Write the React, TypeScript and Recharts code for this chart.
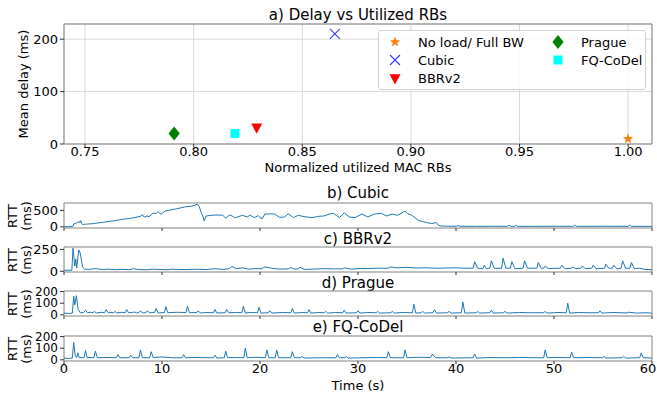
import { ScatterChart, Scatter, LineChart, Line, XAxis, YAxis, CartesianGrid, ReferenceArea } from 'recharts';

const FONT = "'DejaVu Sans', sans-serif";

// a) scatter: one point per congestion control / AQM
const methods = ['No load/ Full BW', 'Cubic', 'BBRv2', 'Prague', 'FQ-CoDel'];
const utilizedRBs = [1.0, 0.865, 0.829, 0.791, 0.819];
const meanDelay = [10, 210, 30, 20, 20];
const rbTicks = [0.75, 0.8, 0.85, 0.9, 0.95, 1.0];
const delayTicks = [0, 100, 200];

// b-e) RTT traces, [time s, rtt ms]
const cubicRtt: [number, number][] = [
  [0, 5], [0.5, 8], [0.9, 12], [1.0, 90], [1.2, 110], [1.4, 130], [1.5, 165], [1.6, 120], [1.7, 190], [1.8, 110],
  [1.9, 70], [2.2, 80], [3, 100], [4, 140], [5, 180], [6, 230], [7, 270], [7.8, 320], [8.0, 370], [8.2, 290],
  [8.4, 330], [8.7, 310], [9.1, 420], [9.4, 400], [9.6, 460], [9.9, 380], [10.3, 480], [10.8, 510], [11.5, 550],
  [12.4, 610], [13.0, 630], [13.3, 650], [13.6, 690], [13.8, 620], [14.0, 430], [14.2, 300], [14.3, 180], [14.5, 330],
  [15.0, 350], [15.5, 360], [16.2, 355], [16.5, 260], [16.8, 340], [17.0, 360], [17.3, 300], [17.5, 280], [18.0, 330],
  [18.2, 350], [18.7, 300], [19.0, 360], [19.4, 280], [19.8, 340], [20.2, 240], [20.5, 390], [21.0, 395], [21.5, 390],
  [22.0, 290], [22.5, 300], [22.9, 400], [23.4, 280], [23.9, 350], [24.5, 310], [25.3, 280], [26.0, 320], [26.5, 330],
  [27.1, 390], [27.5, 410], [28.1, 280], [28.6, 430], [29.1, 300], [29.7, 280], [30.4, 390], [31.0, 300], [31.7, 390],
  [32.4, 410], [32.9, 330], [33.5, 390], [34.0, 350], [34.4, 410], [34.8, 480], [35.1, 400], [35.5, 350], [35.8, 280],
  [36.2, 190], [36.6, 160], [37.0, 130], [37.5, 100], [38.0, 130], [38.2, 50], [38.4, 30], [39, 20], [40.05, 18],
  [40.2, 40], [40.4, 18], [42, 15], [44, 18], [45.25, 18], [45.4, 50], [45.6, 18], [45.95, 16], [46.1, 45], [46.3, 15],
  [48, 15], [50, 18], [51.95, 16], [52.1, 50], [52.3, 15], [55, 18], [57.55, 16], [57.7, 50], [57.9, 15], [60, 15],
];

const bbrRtt: [number, number][] = [
  [0, 12], [0.8, 12], [0.92, 265], [1.05, 120], [1.1, 60], [1.2, 140], [1.3, 40], [1.5, 245], [1.65, 210], [1.9, 50],
  [2.1, 25], [2.6, 22], [3.3, 32], [3.8, 20], [4.5, 24], [5.2, 18], [6, 22], [6.6, 18], [7.1, 30], [7.6, 20], [8.5, 18],
  [9.0, 24], [9.5, 22], [10.5, 18], [11.0, 24], [11.5, 22], [12.5, 20], [13.5, 24], [14.5, 20], [15.0, 26], [15.5, 28],
  [16.3, 22], [16.9, 30], [17.1, 55], [17.6, 30], [18.2, 40], [18.8, 25], [19.5, 30], [20.2, 30], [20.5, 50], [21.2, 35],
  [22.0, 25], [22.9, 28], [23.1, 45], [23.5, 25], [23.9, 28], [24.1, 45], [24.5, 22], [25.5, 25], [26.5, 30], [27.5, 28],
  [28.4, 28], [28.6, 40], [29.2, 25], [30, 30], [31, 32], [32, 35], [33.1, 35], [33.3, 50], [34, 40], [35, 45], [36, 38],
  [37, 40], [38, 35], [39, 38], [40, 40], [41, 35], [41.75, 35], [41.9, 110], [42.2, 35], [42.75, 30], [42.9, 70],
  [43.1, 30], [43.45, 35], [43.6, 120], [43.9, 35], [44.65, 35], [44.8, 150], [45.1, 35], [45.55, 35], [45.7, 110],
  [46.0, 30], [46.85, 35], [47.0, 120], [47.3, 35], [48.25, 35], [48.4, 100], [48.7, 35], [48.95, 35], [49.1, 60],
  [49.4, 30], [50.1, 35], [50.65, 35], [50.8, 70], [51.1, 30], [51.75, 35], [51.9, 50], [52.2, 30], [52.75, 35],
  [52.9, 60], [53.2, 30], [53.85, 35], [54.0, 70], [54.3, 30], [55.15, 35], [55.3, 80], [55.6, 35], [55.95, 35],
  [56.1, 70], [56.4, 30], [56.85, 35], [57.0, 120], [57.3, 35], [57.75, 35], [57.9, 100], [58.2, 30], [58.7, 35],
  [59.3, 22], [60, 18],
];

const pragueRtt: [number, number][] = [
  [0, 15], [0.5, 12], [0.85, 15], [0.99, 160], [1.1, 85], [1.26, 165], [1.45, 45], [1.67, 18], [2.0, 20], [2.2, 40],
  [2.4, 18], [2.7, 22], [2.95, 18], [3.1, 30], [3.3, 16], [3.8, 22], [4.15, 18], [4.3, 45], [4.5, 18], [4.9, 20],
  [5.05, 16], [5.2, 30], [5.4, 16], [5.9, 22], [6.25, 18], [6.4, 45], [6.6, 18], [7.0, 20], [7.2, 25], [7.4, 16],
  [7.65, 20], [7.8, 35], [8.0, 16], [8.35, 18], [8.5, 35], [8.7, 18], [9.25, 20], [9.4, 55], [9.6, 16], [10.25, 20],
  [10.4, 70], [10.6, 18], [11.5, 22], [12.45, 20], [12.6, 75], [12.8, 18], [13.55, 20], [13.7, 35], [13.9, 16],
  [14.5, 20], [15.25, 18], [15.4, 45], [15.6, 16], [16.45, 18], [16.6, 45], [16.8, 18], [17.5, 20], [18.15, 18],
  [18.3, 75], [18.5, 15], [19.0, 20], [19.75, 18], [19.9, 65], [20.1, 15], [20.85, 18], [21.0, 35], [21.2, 15],
  [22.3, 20], [23.15, 18], [23.3, 55], [23.5, 15], [24.2, 20], [24.85, 18], [25.0, 45], [25.2, 15], [26.0, 20],
  [26.55, 18], [26.7, 30], [26.9, 15], [27.7, 20], [28.45, 18], [28.6, 40], [28.8, 15], [29.85, 18], [30.0, 35],
  [30.2, 15], [31, 20], [31.85, 18], [32, 30], [32.2, 15], [33.35, 18], [33.5, 30], [33.7, 15], [34.5, 20], [35.55, 18],
  [35.7, 90], [35.9, 15], [36.45, 18], [36.6, 30], [36.8, 15], [37.65, 18], [37.8, 45], [38.0, 15], [39.15, 18],
  [39.3, 30], [39.5, 15], [40.55, 18], [40.7, 110], [40.9, 15], [42.05, 18], [42.2, 30], [42.4, 15], [43.45, 18],
  [43.6, 40], [43.8, 15], [44.85, 18], [45, 30], [45.2, 15], [46.5, 20], [47.5, 18], [48.95, 18], [49.1, 30], [49.3, 15],
  [50.5, 20], [51.25, 18], [51.4, 100], [51.6, 15], [52.5, 20], [53.5, 18], [54.55, 18], [54.7, 35], [54.9, 15], [56, 20],
  [57.45, 16], [57.6, 22], [58.5, 15], [59.3, 18], [60, 15],
];

const fqCodelRtt: [number, number][] = [
  [0, 15], [0.5, 12], [0.85, 15], [0.99, 150], [1.15, 30], [1.3, 20], [1.4, 60], [1.55, 20], [2.05, 18], [2.2, 80],
  [2.35, 20], [3.05, 18], [3.2, 75], [3.4, 18], [4.5, 20], [5.35, 18], [5.5, 45], [5.7, 18], [6.65, 18], [6.8, 40],
  [7.0, 18], [7.65, 18], [7.8, 85], [8.0, 18], [8.75, 18], [8.9, 70], [9.1, 20], [10, 25], [11, 18], [12.05, 18],
  [12.2, 45], [12.4, 18], [13.5, 20], [14.5, 18], [15.25, 18], [15.4, 40], [15.6, 15], [16.35, 18], [16.5, 75],
  [16.7, 18], [17.5, 20], [18.35, 18], [18.5, 100], [18.7, 18], [19.5, 22], [20.55, 18], [20.7, 85], [20.9, 18],
  [21.55, 18], [21.7, 85], [21.9, 18], [23.15, 18], [23.3, 70], [23.5, 18], [24.15, 18], [24.3, 30], [24.5, 15], [26, 18],
  [27.75, 18], [27.9, 45], [28.1, 18], [28.65, 18], [28.8, 30], [29, 15], [30.5, 18], [32, 20], [32.95, 18], [33.1, 70],
  [33.3, 18], [34.65, 18], [34.8, 85], [35.0, 18], [36.2, 22], [37.4, 20], [37.6, 50], [37.9, 18], [39.15, 18],
  [39.3, 25], [39.5, 15], [41.75, 18], [41.9, 50], [42.1, 15], [43.5, 20], [45, 18], [46.5, 20], [48, 18], [48.95, 18],
  [49.1, 85], [49.3, 18], [50.5, 20], [51.65, 18], [51.8, 65], [52.0, 18], [53.5, 20], [54.95, 18], [55.1, 30],
  [55.3, 15], [56.95, 18], [57.1, 30], [57.3, 15], [58.75, 18], [58.9, 60], [59.1, 18], [60, 15],
];

const timeTicks = [0, 10, 20, 30, 40, 50, 60];

const tickStyle = { fill: '#000', fontSize: 13, fontFamily: FONT };
const smallTickStyle = { fill: '#000', fontSize: 12, fontFamily: FONT };
const frameColor = '#808080';
const AXIS_W = 64;

// marker shapes, matplotlib style
const Star = ({ cx, cy, r = 5.5 }: any) => {
  const pts: string[] = [];
  for (let i = 0; i < 10; i++) {
    const rad = i % 2 === 0 ? r : r * 0.42;
    const a = -Math.PI / 2 + (i * Math.PI) / 5;
    pts.push(`${cx + rad * Math.cos(a)},${cy + rad * Math.sin(a)}`);
  }
  return <polygon points={pts.join(' ')} fill="#ff7f0e" />;
};
const XMark = ({ cx, cy, s = 5 }: any) => (
  <g stroke="#3b3bff" strokeWidth={1.1}>
    <line x1={cx - s} y1={cy - s} x2={cx + s} y2={cy + s} />
    <line x1={cx - s} y1={cy + s} x2={cx + s} y2={cy - s} />
  </g>
);
const TriDown = ({ cx, cy, s = 5.5 }: any) => (
  <polygon points={`${cx - s},${cy - s * 0.85} ${cx + s},${cy - s * 0.85} ${cx},${cy + s}`} fill="#ff0000" />
);
const Diamond = ({ cx, cy, s = 7 }: any) => (
  <polygon points={`${cx},${cy - s} ${cx + s * 0.8},${cy} ${cx},${cy + s} ${cx - s * 0.8},${cy}`} fill="#008000" />
);
const Square = ({ cx, cy, s = 4.5 }: any) => (
  <rect x={cx - s} y={cy - s} width={2 * s} height={2 * s} fill="#00ffff" />
);

const markers = [Star, XMark, TriDown, Diamond, Square];

// time tick label; the last one is nudged left so it stays inside the page
const TimeTick = ({ x, y, payload }: any) => (
  <text x={payload.value === 60 ? x - 4 : x} y={y} dy="0.71em" textAnchor="middle" {...tickStyle}>
    {payload.value}
  </text>
);

function Title({ text, y }: { text: string; y: number }) {
  return (
    <div style={{ position: 'absolute', left: AXIS_W, width: 588, top: y - 9, lineHeight: '18px', textAlign: 'center', fontSize: 15, fontFamily: FONT }}>
      {text}
    </div>
  );
}

function RttPanel({ series, top, domain, yTicks, showX }: { series: [number, number][]; top: number; domain: [number, number]; yTicks: number[]; showX?: boolean }) {
  const data = series.map(([t, v]) => ({ t, v }));
  const pad = 10;
  return (
    <div style={{ position: 'absolute', left: 0, top: top - pad }}>
      <LineChart width={657} height={pad + 25 + (showX ? 22 : 8)} data={data} margin={{ top: pad, right: 5, bottom: 0, left: 0 }}>
        <XAxis
          dataKey="t"
          type="number"
          domain={[0, 60]}
          ticks={timeTicks}
          interval={0}
          height={showX ? 22 : 8}
          tickSize={3}
          tickMargin={0}
          axisLine={false}
          tickLine={{ stroke: '#333' }}
          tick={showX ? <TimeTick /> : () => <g />}
        />
        <YAxis
          type="number"
          domain={domain}
          ticks={yTicks}
          interval={0}
          allowDataOverflow
          width={AXIS_W}
          tickSize={4}
          tickMargin={2}
          axisLine={false}
          tickLine={{ stroke: '#333' }}
          tick={yTicks.length > 2 ? smallTickStyle : tickStyle}
        />
        <ReferenceArea x1={0} x2={60} y1={domain[0]} y2={domain[1]} fill="none" stroke={frameColor} strokeWidth={1} />
        <Line type="linear" dataKey="v" stroke="#1f77b4" strokeWidth={1} dot={false} isAnimationActive={false} />
      </LineChart>
      <div
        style={{
          position: 'absolute', left: 20 - 30, top: pad + 12.5 - 14, width: 60, lineHeight: '14px',
          textAlign: 'center', fontSize: 13, fontFamily: FONT, transform: 'rotate(-90deg)',
        }}
      >
        RTT<br />(ms)
      </div>
    </div>
  );
}

export default function App() {
  return (
    <div style={{ position: 'absolute', left: 0, top: 0, width: 657, height: 395, background: '#fff', fontFamily: FONT }}>
      <Title text="a) Delay vs Utilized RBs" y={15} />
      <div style={{ position: 'absolute', left: 0, top: 0 }}>
        <ScatterChart width={657} height={185} margin={{ top: 24, right: 5, bottom: 5, left: 0 }}>
          <CartesianGrid stroke="#d9d9d9" />
          <XAxis
            dataKey="x"
            type="number"
            domain={[0.7403, 1.011]}
            ticks={rbTicks}
            interval={0}
            allowDataOverflow
            height={36}
            tickSize={3}
            tickMargin={0}
            axisLine={false}
            tickLine={{ stroke: '#333' }}
            tick={tickStyle}
            tickFormatter={(v) => v.toFixed(2)}
          />
          <YAxis
            dataKey="y"
            type="number"
            domain={[0, 229]}
            ticks={delayTicks}
            interval={0}
            allowDataOverflow
            width={AXIS_W}
            tickSize={4}
            tickMargin={2}
            axisLine={false}
            tickLine={{ stroke: '#333' }}
            tick={tickStyle}
          />
          <ReferenceArea x1={0.7403} x2={1.011} y1={0} y2={229} fill="none" stroke={frameColor} strokeWidth={1} />
          {methods.map((m, i) => {
            const Mark = markers[i];
            return (
              <Scatter
                key={m}
                name={m}
                data={[{ x: utilizedRBs[i], y: meanDelay[i] }]}
                shape={(p: any) => <Mark cx={p.cx} cy={p.cy} />}
                isAnimationActive={false}
              />
            );
          })}
        </ScatterChart>
      </div>
      {/* legend */}
      <div
        style={{
          position: 'absolute', left: 378, top: 30, width: 266, height: 58, border: '1px solid #d0d0d0', borderRadius: 3,
          background: 'rgba(255,255,255,0.85)', fontSize: 13, fontFamily: FONT,
        }}
      >
        {methods.map((m, i) => {
          const Mark = markers[i];
          const col = i < 3 ? 0 : 1;
          const row = i < 3 ? i : i - 3;
          return (
            <div key={m} style={{ position: 'absolute', left: col === 0 ? 6 : 169, top: 2 + row * 18.3, height: 18, display: 'flex', alignItems: 'center' }}>
              <svg width={20} height={18} style={{ marginRight: 13 }}>
                <Mark cx={10} cy={9} />
              </svg>
              <span>{m}</span>
            </div>
          );
        })}
      </div>
      <div style={{ position: 'absolute', left: AXIS_W, width: 588, top: 160, lineHeight: '16px', textAlign: 'center', fontSize: 13 }}>
        Normalized utilized MAC RBs
      </div>
      <div
        style={{
          position: 'absolute', left: 24 - 60, top: 84 - 8, width: 120, lineHeight: '16px', textAlign: 'center',
          fontSize: 13, transform: 'rotate(-90deg)',
        }}
      >
        Mean delay (ms)
      </div>

      <Title text="b) Cubic" y={193} />
      <RttPanel series={cubicRtt} top={203} domain={[-35, 725]} yTicks={[0, 500]} />
      <Title text="c) BBRv2" y={239} />
      <RttPanel series={bbrRtt} top={247} domain={[-8, 278]} yTicks={[0, 250]} />
      <Title text="d) Prague" y={283} />
      <RttPanel series={pragueRtt} top={291} domain={[-10, 205]} yTicks={[0, 100, 200]} />
      <Title text="e) FQ-CoDel" y={327} />
      <RttPanel series={fqCodelRtt} top={336} domain={[-10, 205]} yTicks={[0, 100, 200]} showX />
      <div style={{ position: 'absolute', left: AXIS_W, width: 588, top: 378, lineHeight: '16px', textAlign: 'center', fontSize: 13 }}>
        Time (s)
      </div>
    </div>
  );
}
